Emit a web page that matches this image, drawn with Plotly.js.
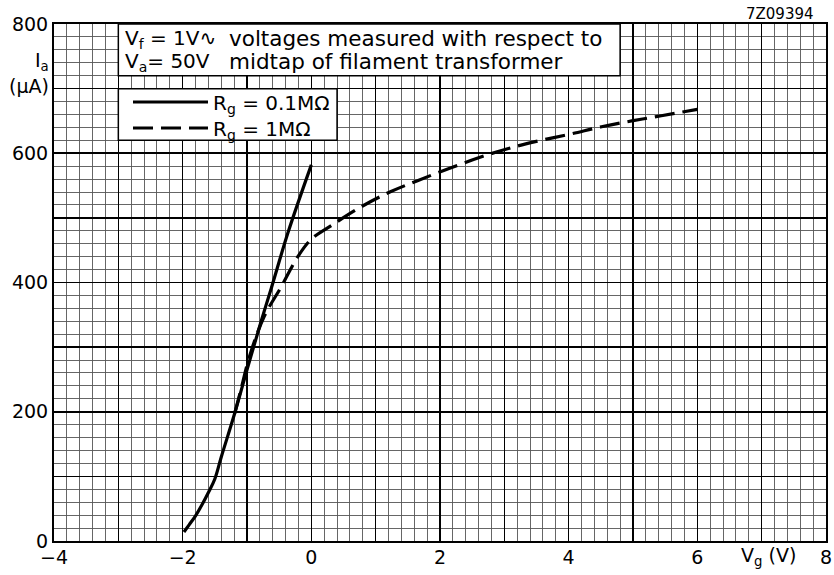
<!DOCTYPE html>
<html>
<head>
<meta charset="utf-8">
<script src="https://cdn.plot.ly/plotly-3.0.1.min.js"></script>
<style>html,body{margin:0;padding:0;background:#fff;}#chart{width:834px;height:575px;}</style>
</head>
<body>
<div id="chart"></div>
<script>
// Rg = 0.1 MΩ (solid)
const solidVg = [-1.98, -1.9, -1.8, -1.7, -1.6, -1.5, -1.4, -1.19, -0.98, -0.78, -0.62, -0.36, 0];
const solidIa = [14, 25, 39, 56, 75, 96, 130, 198, 272, 340, 392, 478, 582];
// Rg = 1 MΩ (dashed)
const dashVg = [-1.19, -1.1, -0.96, -0.73, -0.47, -0.21, 0, 0.34, 0.79, 1.22, 1.66, 2.13, 2.6, 3.05, 3.53, 4.04, 4.51, 4.98, 5.44, 6.0];
const dashIa = [198, 232, 286, 348, 393, 440, 467, 490, 518, 540, 558, 576, 593, 607, 619, 630, 641, 650, 658, 668];

const xTickVals = [-4, -3, -2, -1, 0, 1, 2, 3, 4, 5, 6, 7, 8];
const xTickText = ['\u22124', '', '\u22122', '', '0', '', '2', '', '4', '', '6', '', '8'];
const yTickVals = [0, 100, 200, 300, 400, 500, 600, 700, 800];
const yTickText = ['0', '', '200', '', '400', '', '600', '', '800'];

const FONT = 'DejaVu Sans, sans-serif';

const traces = [
  {x: solidVg, y: solidIa, mode: 'lines', name: 'R<sub>g</sub> = 0.1M\u03A9', legend: 'legend',
   line: {color: '#000', width: 3.2, shape: 'spline', smoothing: 1}},
  {x: dashVg, y: dashIa, mode: 'lines', name: 'R<sub>g</sub> = 1M\u03A9', legend: 'legend2',
   line: {color: '#000', width: 3.2, dash: '20px,8px', shape: 'spline', smoothing: 1}}
];

const L = 54, R = 826, T = 24, B = 541;
const px = v => (v - L) / (R - L);
const py = v => (B - v) / (B - T);

const legendBase = {xanchor: 'left', yanchor: 'middle', bgcolor: 'rgba(0,0,0,0)', borderwidth: 0,
  font: {family: FONT, size: 20, color: '#000'}, itemwidth: 75};

const layout = {
  width: 834, height: 575,
  margin: {l: L, r: 834 - R, t: T, b: 575 - B},
  paper_bgcolor: '#fff', plot_bgcolor: '#fff',
  font: {family: FONT, color: '#000', size: 18},
  showlegend: true,
  legend: Object.assign({x: px(128), y: py(102)}, legendBase),
  legend2: Object.assign({x: px(128), y: py(128)}, legendBase),
  xaxis: {
    range: [-4, 8], tickmode: 'array', tickvals: xTickVals, ticktext: xTickText,
    showgrid: true, gridcolor: '#000', gridwidth: 1.6, zeroline: false,
    showline: true, linecolor: '#000', linewidth: 2, mirror: true,
    ticks: '', ticklabelstandoff: -2, tickfont: {family: FONT, size: 19},
    minor: {dtick: 0.2, tick0: -4, showgrid: true, gridcolor: '#555', gridwidth: 0.9}
  },
  yaxis: {
    range: [0, 800], tickmode: 'array', tickvals: yTickVals, ticktext: yTickText,
    showgrid: true, gridcolor: '#000', gridwidth: 1.6, zeroline: false,
    showline: true, linecolor: '#000', linewidth: 2, mirror: true,
    ticks: '', ticklabelstandoff: 0, tickfont: {family: FONT, size: 19},
    minor: {dtick: 20, tick0: 0, showgrid: true, gridcolor: '#555', gridwidth: 0.9}
  },
  shapes: [
    {type: 'rect', xref: 'x', yref: 'y', x0: -3, x1: 4.8, y0: 720, y1: 800,
     fillcolor: '#fff', line: {color: '#000', width: 1.5}, layer: 'above'},
    {type: 'rect', xref: 'x', yref: 'y', x0: -3, x1: 0.4, y0: 620, y1: 700,
     fillcolor: '#fff', line: {color: '#000', width: 1.5}, layer: 'above'}
  ],
  annotations: [
    {xref: 'paper', yref: 'paper', x: px(123), y: py(39), xanchor: 'left', yanchor: 'middle',
     text: 'V<sub>f</sub> = 1V\u223F', showarrow: false, font: {family: FONT, size: 20}},
    {xref: 'paper', yref: 'paper', x: px(123), y: py(62), xanchor: 'left', yanchor: 'middle',
     text: 'V<sub>a</sub>= 50V', showarrow: false, font: {family: FONT, size: 20}},
    {xref: 'paper', yref: 'paper', x: px(227), y: py(39), xanchor: 'left', yanchor: 'middle',
     text: 'voltages measured with respect to', showarrow: false, font: {family: FONT, size: 21.5}},
    {xref: 'paper', yref: 'paper', x: px(227), y: py(62), xanchor: 'left', yanchor: 'middle',
     text: 'midtap of filament transformer', showarrow: false, font: {family: FONT, size: 21.5}},
    {xref: 'paper', yref: 'paper', x: px(816), y: py(14), xanchor: 'right', yanchor: 'middle',
     text: '7Z09394', showarrow: false, font: {family: FONT, size: 15}},
    {xref: 'paper', yref: 'paper', x: px(51), y: py(62), xanchor: 'right', yanchor: 'middle',
     text: 'I<sub>a</sub>', showarrow: false, font: {family: FONT, size: 19}},
    {xref: 'paper', yref: 'paper', x: px(51), y: py(86), xanchor: 'right', yanchor: 'middle',
     text: '(\u03BCA)', showarrow: false, font: {family: FONT, size: 19}},
    {xref: 'paper', yref: 'paper', x: px(768), y: py(556), xanchor: 'center', yanchor: 'middle',
     text: 'V<sub>g</sub> (V)', showarrow: false, font: {family: FONT, size: 19}}
  ]
};

Plotly.newPlot('chart', traces, layout, {displayModeBar: false, staticPlot: true});
</script>
</body>
</html>
